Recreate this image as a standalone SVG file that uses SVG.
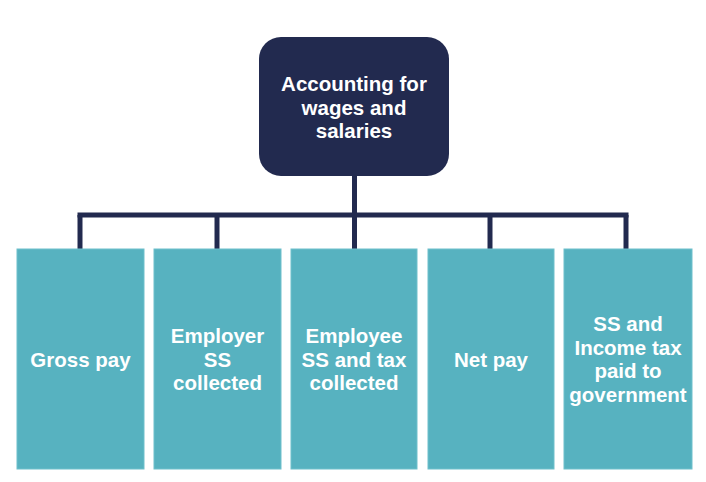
<svg xmlns="http://www.w3.org/2000/svg" width="706" height="482" viewBox="0 0 706 482">
<style>
.top{fill:#222a4f}
.box{fill:#57b2c0;stroke:#6fc0cc;stroke-width:1}
.lbl{font-family:"Liberation Sans",Arial,sans-serif;font-weight:bold;font-size:20.5px;fill:#ffffff;text-anchor:middle}
.con{stroke:#222a4f;stroke-width:5;fill:none;stroke-linecap:butt}
</style>
<rect width="706" height="482" fill="#ffffff"/>
<g id="connectors">
<path class="con" d="M354.5 176 V249"/>
<path class="con" d="M77.5 215 H628.5"/>
<path class="con" d="M80 215 V249"/>
<path class="con" d="M217 215 V249"/>
<path class="con" d="M490 215 V249"/>
<path class="con" d="M626 215 V249"/>
</g>
<g id="root">
<rect class="top" x="259" y="37" width="190" height="139" rx="22"/>
<text class="lbl"><tspan x="354" y="91">Accounting for</tspan><tspan x="354" y="114.5">wages and</tspan><tspan x="354" y="138">salaries</tspan></text>
</g>
<g id="gross">
<rect class="box" x="17" y="249" width="127" height="220"/>
<text class="lbl" x="80.5" y="366.5">Gross pay</text>
</g>
<g id="employer">
<rect class="box" x="154" y="249" width="127" height="220"/>
<text class="lbl"><tspan x="217.5" y="342.5">Employer</tspan><tspan x="217.5" y="366.5">SS</tspan><tspan x="217.5" y="390">collected</tspan></text>
</g>
<g id="employee">
<rect class="box" x="291" y="249" width="126" height="220"/>
<text class="lbl"><tspan x="354" y="342.5">Employee</tspan><tspan x="354" y="366.5">SS and tax</tspan><tspan x="354" y="390">collected</tspan></text>
</g>
<g id="net">
<rect class="box" x="428" y="249" width="126" height="220"/>
<text class="lbl" x="491" y="366.5">Net pay</text>
</g>
<g id="paid">
<rect class="box" x="564" y="249" width="128" height="220"/>
<text class="lbl"><tspan x="628" y="331">SS and</tspan><tspan x="628" y="354.5">Income tax</tspan><tspan x="628" y="378">paid to</tspan><tspan x="628" y="401.5">government</tspan></text>
</g>
</svg>
